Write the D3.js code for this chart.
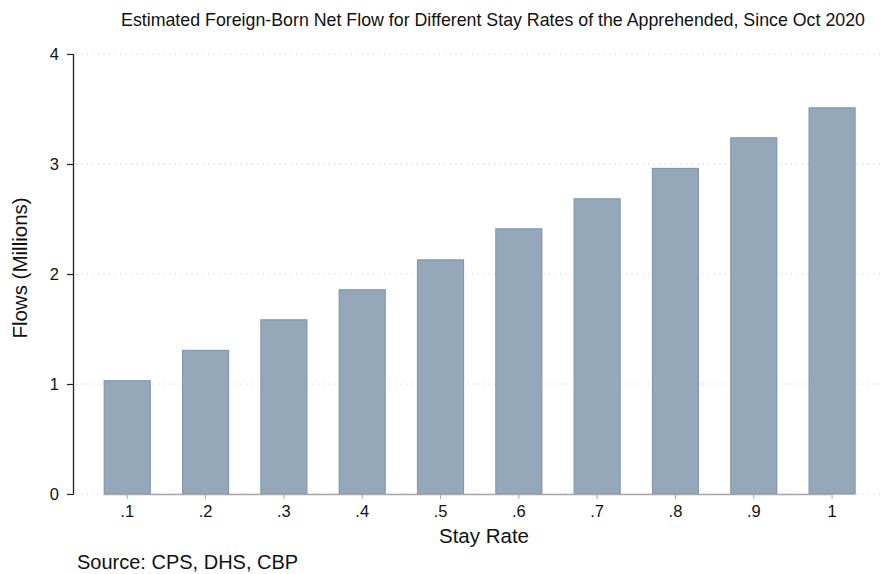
<!DOCTYPE html>
<html><head><meta charset="utf-8">
<script src="https://cdn.jsdelivr.net/npm/d3@7"></script>
<style>body{margin:0;background:#fff}svg{display:block;font-family:"Liberation Sans",Arial,sans-serif}</style>
</head><body>
<script>
const stayRates = [0.1,0.2,0.3,0.4,0.5,0.6,0.7,0.8,0.9,1.0];
const xTickLabels = [".1",".2",".3",".4",".5",".6",".7",".8",".9","1"];
const flows = [1.034,1.31,1.588,1.861,2.133,2.415,2.688,2.964,3.243,3.515];
const yTicks = [0,1,2,3,4];
const title = "Estimated Foreign-Born Net Flow for Different Stay Rates of the Apprehended, Since Oct 2020";

const W=883,H=574;
const svg=d3.select("body").append("svg").attr("width",W).attr("height",H);
const x=d3.scaleLinear().domain([0.032,1.065]).range([74,883]);
const y=d3.scaleLinear().domain([0,4]).range([494,54]);
const bw = x(0.06)-x(0);

// grid
svg.append("g").selectAll("line").data(yTicks).join("line")
  .attr("x1",76).attr("x2",883).attr("y1",d=>y(d)).attr("y2",d=>y(d))
  .attr("stroke","#c8c8c8").attr("stroke-width",1).attr("stroke-dasharray","1,4.5");

// bars
svg.append("g").selectAll("rect").data(stayRates).join("rect")
  .attr("x",(d)=>x(d)-bw/2+0.5).attr("width",bw-1)
  .attr("y",(d,i)=>y(flows[i])+0.5).attr("height",(d,i)=>y(0)-y(flows[i])-0.5)
  .attr("fill","#94a8b9").attr("stroke","#8198ad").attr("stroke-width",1.2);

// x axis line
svg.append("line").attr("x1",x(0.1)-bw/2).attr("x2",x(1)).attr("y1",494.5).attr("y2",494.5)
  .attr("stroke","#a6a6a6").attr("stroke-width",1.3);
// x ticks
svg.append("g").selectAll("line").data(stayRates).join("line")
  .attr("x1",d=>x(d)).attr("x2",d=>x(d)).attr("y1",494).attr("y2",499)
  .attr("stroke","#a6a6a6");
svg.append("g").selectAll("text").data(stayRates).join("text")
  .attr("x",d=>x(d)).attr("y",517).attr("text-anchor","middle")
  .attr("font-size",16.5).attr("fill","#111").text((d,i)=>xTickLabels[i]);

// y axis
svg.append("line").attr("x1",73.5).attr("x2",73.5).attr("y1",y(4)).attr("y2",y(0)+0.5)
  .attr("stroke","#222").attr("stroke-width",1.3);
svg.append("g").selectAll("line").data(yTicks).join("line")
  .attr("x1",67).attr("x2",73.5).attr("y1",d=>y(d)+0.5).attr("y2",d=>y(d)+0.5)
  .attr("stroke","#222").attr("stroke-width",1.2);
svg.append("g").selectAll("text").data(yTicks).join("text")
  .attr("x",59).attr("y",d=>y(d)+6).attr("text-anchor","end")
  .attr("font-size",16.5).attr("fill","#111").text(d=>d);

// titles
svg.append("text").attr("x",493).attr("y",26).attr("text-anchor","middle")
  .attr("font-size",17.8).attr("fill","#111").text(title);
svg.append("text").attr("x",484).attr("y",543).attr("text-anchor","middle")
  .attr("font-size",20.5).attr("fill","#111").text("Stay Rate");
svg.append("text").attr("transform","translate(27,268) rotate(-90)").attr("text-anchor","middle")
  .attr("font-size",20.5).attr("fill","#111").text("Flows (Millions)");
svg.append("text").attr("x",77).attr("y",569).attr("font-size",20).attr("fill","#111")
  .text("Source: CPS, DHS, CBP");
</script>
</body></html>
